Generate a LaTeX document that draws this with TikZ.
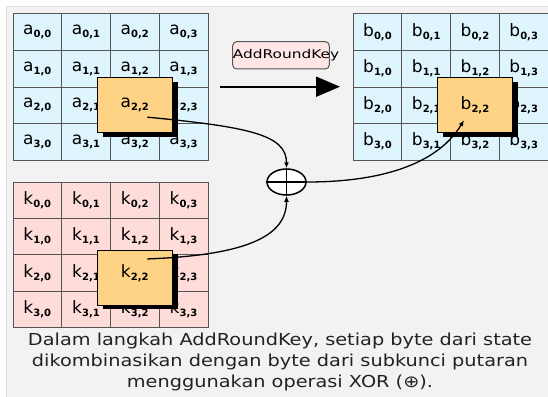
\documentclass[tikz,border=0pt]{standalone}
\usepackage{fontspec}
\setmainfont{DejaVu Sans}
\newfontfamily\wideFont[FakeStretch=1.17]{DejaVu Sans}
\usetikzlibrary{arrows.meta,%
                shapes,shadows,positioning}

\definecolor{panel}{HTML}{F2F2F2}
\definecolor{statecol}{HTML}{DFF5FD}
\definecolor{keycol}{HTML}{FDDCDA}
\definecolor{bytecol}{HTML}{FED386}
\definecolor{labelcol}{HTML}{FFE6E6}
\definecolor{gridcol}{HTML}{555555}
\definecolor{captioncol}{HTML}{222222}

\newcommand{\cellText}[3]{{\fontsize{17}{17}\selectfont #1}\raisebox{-3pt}{\fontsize{10}{10}\selectfont\bfseries #2,#3}}

\begin{document}
\begin{tikzpicture}[x=1pt,y=-1pt,
  cell/.style={draw=gridcol,line width=0.8pt,minimum width=48.75pt,minimum height=36.5pt,inner sep=0pt,anchor=north west},
  zoomed/.style={draw=black,line width=1pt,fill=bytecol,minimum width=75pt,minimum height=55pt,inner sep=0pt,
    drop shadow={fill=black,opacity=1,shadow xshift=6pt,shadow yshift=-4pt}},
  wire/.style={line width=1.3pt,-{Latex[length=6pt,width=5pt]}}]
\useasboundingbox (0,0) rectangle (548,396);
\fill[white] (0,0) rectangle (548,396);
\draw[fill=panel,draw=black!12] (6.5,6.5) rectangle (549,397);

\foreach \r in {0,...,3}
  \foreach \c in {0,...,3} {
    \node[cell,fill=statecol] (a-\r-\c) at (12.5+48.75*\c, 13.5+36.5*\r) {\cellText{a}{\r}{\c}};
    \node[cell,fill=statecol] (b-\r-\c) at (352.7+48.75*\c, 13.5+36.5*\r) {\cellText{b}{\r}{\c}};
    \node[cell,fill=keycol] (k-\r-\c) at (12.5+48.75*\c, 181.7+36.3*\r) {\cellText{k}{\r}{\c}};
  }

\node[zoomed] (a-big) at (a-2-2) {\cellText{a}{2}{2}};
\node[zoomed] (b-big) at (b-2-2) {\cellText{b}{2}{2}};
\node[zoomed,label={[yshift=5pt]center:\cellText{k}{2}{2}}] (k-big) at ([yshift=-5pt]k-2-2) {};

\node[draw=gridcol,fill=labelcol,rounded corners=4pt,line width=1pt,minimum width=96.6pt,minimum height=27.3pt] (key-box) at (281,55.3) {};
\node (key-text) at (286,55.5) {\scalebox{1.28}[1]{\fontsize{12}{12}\selectfont AddRoundKey}};

\coordinate (arrow-from) at (220,86.7);
\coordinate (arrow-to) at (340,86.7);
\draw[line width=2pt,-{Triangle[length=24pt,width=20pt]}] (arrow-from) -- (arrow-to);

\node[draw,ellipse,line width=1.5pt,fill=white,minimum width=39pt,minimum height=26pt,inner sep=0pt] (xor) at (286.5,182) {};
\draw[line width=1.5pt] (xor.north) -- (xor.south) (xor.west) -- (xor.east);

\coordinate (a-from) at ([xshift=12.5pt,yshift=-12pt]a-big.center);
\coordinate (k-from) at ([xshift=12.5pt,yshift=19pt]k-big.center);
\coordinate (b-to) at ([xshift=-11pt,yshift=-15pt]b-big.center);
\draw[wire] (a-from) .. controls (250,127) and (286.5,135) .. (xor.north);
\draw[wire] (k-from) .. controls (250,255) and (286.5,235) .. (xor.south);
\draw[wire] (xor.east) .. controls (390,182) and (440,160) .. (b-to);

\node[align=center,text=captioncol,font=\wideFont\fontsize{16.5}{21}\selectfont] (caption) at (280,362)
  {Dalam langkah AddRoundKey, setiap byte dari state\\dikombinasikan dengan byte dari subkunci putaran\\menggunakan operasi XOR (⊕).};
\end{tikzpicture}
\end{document}
